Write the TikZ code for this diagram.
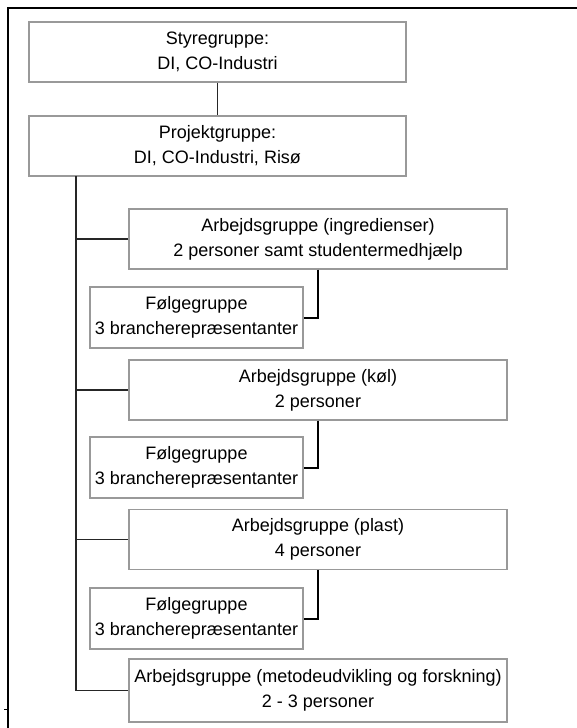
\documentclass[tikz,border=0pt]{standalone}
\usepackage{fontspec}
\setmainfont{Liberation Sans}
\usepackage{tikz}
\usetikzlibrary{positioning}
\definecolor{boxgray}{gray}{0.6}

\begin{document}
\begin{tikzpicture}[x=1pt, y=-1pt,
  grp/.style={draw=boxgray, line width=1.2pt, align=center, inner sep=0pt,
              minimum height=60pt, font=\fontsize{18}{25}\selectfont},
  top/.style={grp, minimum width=377pt},
  arb/.style={grp, minimum width=378pt},
  folg/.style={grp, minimum width=213pt, minimum height=61pt},
  link/.style={line width=1.1pt, black!85},
  sub/.style={line width=2pt, black}]
\useasboundingbox (0,0) rectangle (577,728);
% frame
\draw[line width=2.2pt] (577,8) -- (8,8) -- (8,728);
\draw[line width=0.8pt] (4,709) -- (8,709);
\node[top] (S) at (217.5,52) {Styregruppe:\\ DI, CO-Industri};
\node[top] (P) at (217.5,146) {Projektgruppe:\\ DI, CO-Industri, Risø};
\node[arb] (A1) at (318,239)
  {Arbejdsgruppe (ingredienser)\\ 2 personer samt studentermedhjælp};
\node[folg] (F1) at (196.5,317.5) {Følgegruppe\\ 3 brancherepræsentanter};
\node[arb] (A2) at (318,390) {Arbejdsgruppe (køl)\\ 2 personer};
\node[folg] (F2) at (196.5,467.5) {Følgegruppe\\ 3 brancherepræsentanter};
\node[arb] (A3) at (318,539.5) {Arbejdsgruppe (plast)\\ 4 personer};
\node[folg] (F3) at (196.5,618.5) {Følgegruppe\\ 3 brancherepræsentanter};
\node[arb, minimum height=63pt] (A4) at (318,690.5)
  {Arbejdsgruppe (metodeudvikling og forskning)\\ 2 - 3 personer};
\coordinate (T) at (76,176);
\draw[link] (S) -- (P);
\draw[link] (T) |- (A4.west);
\foreach \a in {A1,A2,A3}
  \draw[link] (T |- \a.west) -- (\a.west);
\foreach \a/\f in {A1/F1,A2/F2,A3/F3}
  \draw[sub] (\a.south) |- (\f.east);
\end{tikzpicture}
\end{document}
